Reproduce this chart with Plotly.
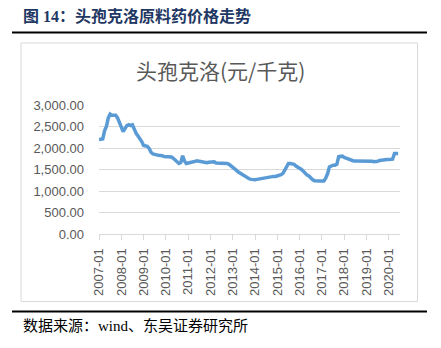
import plotly.graph_objects as go

years = list(range(2007, 2021))
months = [f"{y}-{m:02d}" for y in years for m in range(1, 13)][:162]

prices = [
    # 2007
    2200, 2200, 2210, 2400, 2500, 2700, 2790, 2760, 2750, 2760, 2700, 2580,
    # 2008
    2500, 2380, 2450, 2520, 2540, 2520, 2540, 2420, 2340, 2280, 2220, 2150,
    # 2009
    2060, 2040, 2040, 1990, 1900, 1860, 1840, 1840, 1830, 1830, 1820, 1800,
    # 2010
    1800, 1810, 1810, 1790, 1760, 1720, 1680, 1640, 1660, 1820, 1700, 1640,
    # 2011
    1650, 1660, 1680, 1680, 1700, 1700, 1690, 1680, 1680, 1670, 1660, 1670,
    # 2012
    1680, 1670, 1680, 1650, 1650, 1660, 1660, 1650, 1640, 1640, 1620, 1590,
    # 2013
    1560, 1520, 1480, 1440, 1410, 1380, 1360, 1320, 1290, 1280, 1270, 1260,
    # 2014
    1260, 1270, 1280, 1280, 1290, 1290, 1300, 1320, 1330, 1330, 1340, 1340,
    # 2015
    1350, 1360, 1380, 1410, 1490, 1600, 1640, 1640, 1640, 1620, 1580, 1560,
    # 2016
    1540, 1500, 1460, 1400, 1370, 1350, 1300, 1260, 1240, 1230, 1230, 1230,
    # 2017
    1230, 1230, 1300, 1400, 1560, 1590, 1600, 1600, 1620, 1800, 1810, 1810,
    # 2018
    1780, 1760, 1740, 1720, 1710, 1700, 1700, 1700, 1700, 1705, 1705, 1705,
    # 2019
    1700, 1700, 1690, 1690, 1680, 1680, 1690, 1710, 1720, 1720, 1720, 1730,
    # 2020
    1730, 1730, 1740, 1870, 1875, 1870,
]
x_ticks = [f"{y}-01" for y in years]
y_ticks = [0, 500, 1000, 1500, 2000, 2500, 3000]

chart_title = "头孢克洛(元/千克)"
header = "图 14：头孢克洛原料药价格走势"
source = "数据来源：wind、东吴证券研究所"

W, H = 441, 348
L, R, T, B = 99, 400, 105, 234  # plot area in pixels


def px(x):
    return (x - L) / (R - L)


def py(y):
    return (B - y) / (B - T)


fig = go.Figure()
fig.add_trace(go.Scatter(
    x=months[:len(prices)], y=prices, mode="lines",
    line=dict(color="#5b9bd5", width=3.5), hoverinfo="skip",
))

axis_font = dict(family="Liberation Sans, Arial, sans-serif", size=13, color="#595959")

fig.update_layout(
    width=W, height=H,
    margin=dict(l=L, r=W - R, t=T, b=H - B),
    paper_bgcolor="white", plot_bgcolor="white",
    showlegend=False,
    xaxis=dict(
        type="category", categoryorder="array", categoryarray=months,
        range=[0, 162], tickmode="array", tickvals=x_ticks, ticktext=x_ticks,
        tickangle=-90, ticks="outside", ticklen=5, tickcolor="#d9d9d9",
        showline=True, linecolor="#d9d9d9", linewidth=1,
        showgrid=False, zeroline=False, tickfont=axis_font,
        ticklabelstandoff=3,
    ),
    yaxis=dict(
        range=[0, 3000], tickmode="array", tickvals=y_ticks,
        tickformat=",.2f", showgrid=True, gridcolor="#d9d9d9", gridwidth=1,
        zeroline=False, showline=False, tickfont=axis_font,
        ticklabelstandoff=14,
    ),
    shapes=[
        dict(type="line", xref="paper", yref="paper", x0=px(12), x1=px(427),
             y0=py(32.5), y1=py(32.5), line=dict(color="#000000", width=2)),
        dict(type="line", xref="paper", yref="paper", x0=px(12), x1=px(427),
             y0=py(311.5), y1=py(311.5), line=dict(color="#000000", width=2)),
        dict(type="rect", xref="paper", yref="paper", x0=px(21), x1=px(417.5),
             y0=py(301.5), y1=py(43), line=dict(color="#d9d9d9", width=1)),
    ],
    annotations=[
        dict(text=header, xref="paper", yref="paper", x=px(21), y=py(16),
             xanchor="left", yanchor="middle", showarrow=False,
             font=dict(family="Liberation Serif, Noto Sans CJK SC", size=16,
                       color="#1f3864", weight="bold")),
        dict(text=chart_title, xref="paper", yref="paper", x=px(220), y=py(70),
             xanchor="center", yanchor="middle", showarrow=False,
             font=dict(family="Noto Sans CJK SC", size=21, color="#595959")),
        dict(text=source, xref="paper", yref="paper", x=px(21), y=py(326),
             xanchor="left", yanchor="middle", showarrow=False,
             font=dict(family="Liberation Serif, Noto Sans CJK SC", size=15,
                       color="#000000")),
    ],
)

fig.write_html("out.html")
